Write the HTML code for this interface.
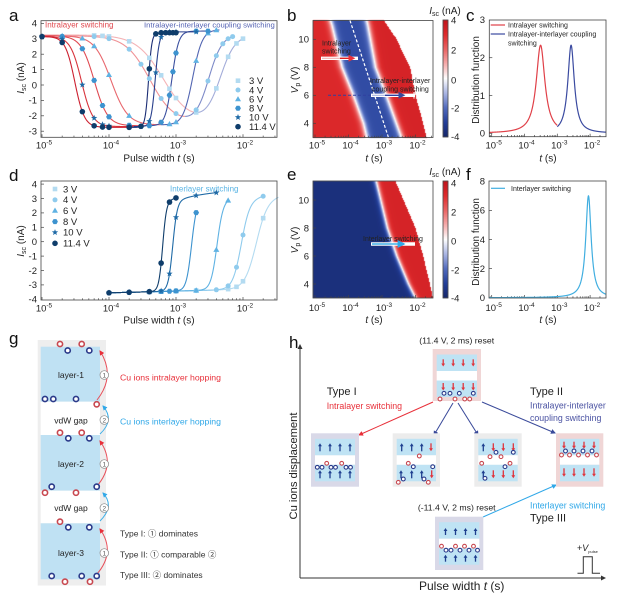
<!DOCTYPE html>
<html><head><meta charset="utf-8">
<style>
html,body{margin:0;padding:0;background:#fff;}
#w{position:relative;width:628px;height:600px;overflow:hidden;background:#fff;}
canvas,svg{position:absolute;left:0;top:0;}
text{font-family:"Liberation Sans","Noto Sans CJK SC",sans-serif;}
</style></head><body><div id="w">
<canvas id="cv" width="628" height="600"></canvas>
<svg id="s" width="628" height="600" viewBox="0 0 628 600" xmlns="http://www.w3.org/2000/svg">
<defs>
<marker id="mR" viewBox="0 0 10 10" refX="8" refY="5" markerWidth="5" markerHeight="5" orient="auto"><path d="M0,0L10,5L0,10z" fill="#e8303a"/></marker>
<marker id="mB" viewBox="0 0 10 10" refX="8" refY="5" markerWidth="5" markerHeight="5" orient="auto"><path d="M0,0L10,5L0,10z" fill="#3a4a9a"/></marker>
<marker id="mL" viewBox="0 0 10 10" refX="8" refY="5" markerWidth="5" markerHeight="5" orient="auto"><path d="M0,0L10,5L0,10z" fill="#30a8e8"/></marker>
<marker id="mK" viewBox="0 0 10 10" refX="8" refY="5" markerWidth="5" markerHeight="5" orient="auto"><path d="M0,0L10,5L0,10z" fill="#333"/></marker>
</defs>
<g id="dyn"></g>

<!-- panel frames -->
<g fill="none" stroke="#444" stroke-width="0.8">
<rect x="41" y="20.7" width="236" height="116.6"/>
<rect x="313" y="20.5" width="120" height="117"/>
<rect x="489.3" y="20" width="116.7" height="116.7"/>
<rect x="41" y="181" width="236" height="119"/>
<rect x="313" y="181" width="120" height="117"/>
<rect x="489" y="181" width="117" height="117"/>
<rect x="443" y="20" width="5" height="117"/>
<rect x="443" y="181" width="5" height="117"/>
</g>

<!-- panel letters -->
<g font-size="17" fill="#111">
<text x="9" y="21">a</text>
<text x="287" y="21">b</text>
<text x="466" y="21">c</text>
<text x="9" y="181">d</text>
<text x="287" y="180">e</text>
<text x="466" y="180">f</text>
<text x="9" y="344">g</text>
<text x="289" y="348">h</text>
</g>

<!-- tick labels -->
<g font-size="9.5" fill="#222">
<g text-anchor="end">
<text x="37" y="26.7">4</text><text x="37" y="42.1">3</text><text x="37" y="57.5">2</text><text x="37" y="72.9">1</text><text x="37" y="88.3">0</text><text x="37" y="103.7">-1</text><text x="37" y="119.1">-2</text><text x="37" y="134.5">-3</text>
<text x="37" y="187.4">4</text><text x="37" y="201.8">3</text><text x="37" y="216.2">2</text><text x="37" y="230.6">1</text><text x="37" y="245">0</text><text x="37" y="259.4">-1</text><text x="37" y="273.8">-2</text><text x="37" y="288.2">-3</text><text x="37" y="302.6">-4</text>
<text x="309" y="126.6">4</text><text x="309" y="98.6">6</text><text x="309" y="70.6">8</text><text x="309" y="42.6">10</text>
<text x="309" y="287.3">4</text><text x="309" y="259.3">6</text><text x="309" y="231.3">8</text><text x="309" y="203.3">10</text>
<text x="485" y="136.6">0</text><text x="485" y="98.8">1</text><text x="485" y="61">2</text><text x="485" y="23.2">3</text>
<text x="485" y="301">0</text><text x="485" y="271.9">2</text><text x="485" y="242.8">4</text><text x="485" y="213.7">6</text><text x="485" y="184.6">8</text>
</g>
<g>
<text x="451" y="23.3">4</text><text x="451" y="53.3">2</text><text x="451" y="83.3">0</text><text x="451" y="111.6">-2</text><text x="451" y="140">-4</text>
<text x="451" y="186.3">4</text><text x="451" y="215.3">2</text><text x="451" y="244.3">0</text><text x="451" y="273.3">-2</text><text x="451" y="301.3">-4</text>
</g>
<g text-anchor="middle">
<text x="44" y="148.5">10<tspan dy="-4" font-size="6.5">-5</tspan></text>
<text x="111" y="148.5">10<tspan dy="-4" font-size="6.5">-4</tspan></text>
<text x="178" y="148.5">10<tspan dy="-4" font-size="6.5">-3</tspan></text>
<text x="245" y="148.5">10<tspan dy="-4" font-size="6.5">-2</tspan></text>
<text x="44" y="311.5">10<tspan dy="-4" font-size="6.5">-5</tspan></text>
<text x="111" y="311.5">10<tspan dy="-4" font-size="6.5">-4</tspan></text>
<text x="178" y="311.5">10<tspan dy="-4" font-size="6.5">-3</tspan></text>
<text x="245" y="311.5">10<tspan dy="-4" font-size="6.5">-2</tspan></text>
<text x="317" y="148.5">10<tspan dy="-4" font-size="6.5">-5</tspan></text>
<text x="350.5" y="148.5">10<tspan dy="-4" font-size="6.5">-4</tspan></text>
<text x="384" y="148.5">10<tspan dy="-4" font-size="6.5">-3</tspan></text>
<text x="417.5" y="148.5">10<tspan dy="-4" font-size="6.5">-2</tspan></text>
<text x="317" y="311">10<tspan dy="-4" font-size="6.5">-5</tspan></text>
<text x="350.5" y="311">10<tspan dy="-4" font-size="6.5">-4</tspan></text>
<text x="384" y="311">10<tspan dy="-4" font-size="6.5">-3</tspan></text>
<text x="417.5" y="311">10<tspan dy="-4" font-size="6.5">-2</tspan></text>
<text x="493.7" y="148.5">10<tspan dy="-4" font-size="6.5">-5</tspan></text>
<text x="526.5" y="148.5">10<tspan dy="-4" font-size="6.5">-4</tspan></text>
<text x="559.3" y="148.5">10<tspan dy="-4" font-size="6.5">-3</tspan></text>
<text x="592.1" y="148.5">10<tspan dy="-4" font-size="6.5">-2</tspan></text>
<text x="493.7" y="311">10<tspan dy="-4" font-size="6.5">-5</tspan></text>
<text x="526.5" y="311">10<tspan dy="-4" font-size="6.5">-4</tspan></text>
<text x="559.3" y="311">10<tspan dy="-4" font-size="6.5">-3</tspan></text>
<text x="592.1" y="311">10<tspan dy="-4" font-size="6.5">-2</tspan></text>
</g>
</g>

<!-- axis titles -->
<g font-size="10" fill="#222" text-anchor="middle">
<text x="159" y="161.5">Pulse width <tspan font-style="italic">t</tspan> (s)</text>
<text x="159" y="323.5">Pulse width <tspan font-style="italic">t</tspan> (s)</text>
<text x="374" y="161.5"><tspan font-style="italic">t</tspan> (s)</text>
<text x="374" y="323"><tspan font-style="italic">t</tspan> (s)</text>
<text x="548" y="161.5"><tspan font-style="italic">t</tspan> (s)</text>
<text x="548" y="323"><tspan font-style="italic">t</tspan> (s)</text>
<text transform="translate(24,78) rotate(-90)"><tspan font-style="italic">I</tspan><tspan font-size="7" dy="2">sc</tspan><tspan dy="-2"> (nA)</tspan></text>
<text transform="translate(24,241) rotate(-90)"><tspan font-style="italic">I</tspan><tspan font-size="7" dy="2">sc</tspan><tspan dy="-2"> (nA)</tspan></text>
<text transform="translate(298,80) rotate(-90)"><tspan font-style="italic">V</tspan><tspan font-size="7" dy="2">p</tspan><tspan dy="-2"> (V)</tspan></text>
<text transform="translate(298,240) rotate(-90)"><tspan font-style="italic">V</tspan><tspan font-size="7" dy="2">p</tspan><tspan dy="-2"> (V)</tspan></text>
<text transform="translate(479,80) rotate(-90)">Distribution function</text>
<text transform="translate(479,242) rotate(-90)">Distribution function</text>
<text x="445" y="14"><tspan font-style="italic">I</tspan><tspan font-size="7" dy="2">sc</tspan><tspan dy="-2"> (nA)</tspan></text>
<text x="445" y="175"><tspan font-style="italic">I</tspan><tspan font-size="7" dy="2">sc</tspan><tspan dy="-2"> (nA)</tspan></text>
</g>

<!-- annotations panel a, d -->
<text x="45" y="27.5" font-size="8" fill="#e04a50">Intralayer switching</text>
<text x="144" y="27.5" font-size="7.7" fill="#5563b3">Intralayer-interlayer coupling switching</text>
<text x="170" y="191.5" font-size="8" fill="#5ab4e4">Interlayer switching</text>
<g font-size="9.5" fill="#222">
<text x="249" y="84">3 V</text><text x="249" y="93.3">4 V</text><text x="249" y="102.6">6 V</text><text x="249" y="111.6">8 V</text><text x="249" y="120.6">10 V</text><text x="249" y="130">11.4 V</text>
<text x="63" y="192.3">3 V</text><text x="63" y="203.2">4 V</text><text x="63" y="214">6 V</text><text x="63" y="224.9">8 V</text><text x="63" y="235.7">10 V</text><text x="63" y="246.6">11.4 V</text>
</g>

<!-- panel b annotations -->
<line x1="350" y1="20.5" x2="388.3" y2="137" stroke="#fff" stroke-width="1.2" stroke-dasharray="3,2"/>
<g font-size="7" fill="#222">
<text x="322" y="45.5">Intralayer</text>
<text x="322" y="53.5">switching</text>
<text x="370" y="83">Intralayer-interlayer</text>
<text x="372" y="91.5">coupling switching</text>
<text x="363" y="241">Interlayer switching</text>
</g>
<line x1="321" y1="58.3" x2="358" y2="58.3" stroke="#fff" stroke-width="3.4"/>
<line x1="322" y1="58.3" x2="352" y2="58.3" stroke="#f2b0b0" stroke-width="1.2"/>
<line x1="340" y1="58.3" x2="354" y2="58.3" stroke="#e02020" stroke-width="1.4" marker-end="url(#mR)"/>
<line x1="328" y1="95.3" x2="371" y2="95.3" stroke="#3040a0" stroke-width="1" stroke-dasharray="3,2"/>
<line x1="371" y1="95.3" x2="415" y2="95.3" stroke="#fff" stroke-width="3.4"/>
<line x1="372" y1="95.3" x2="396" y2="95.3" stroke="#aab4e0" stroke-width="1.2"/>
<line x1="385" y1="95.3" x2="404" y2="95.3" stroke="#3040a0" stroke-width="1.4" marker-end="url(#mB)"/>
<line x1="414" y1="92" x2="414" y2="98.6" stroke="#fff" stroke-width="1"/>
<line x1="371" y1="244" x2="415" y2="244" stroke="#fff" stroke-width="3.4"/>
<line x1="372" y1="244" x2="404" y2="244" stroke="#40b0e8" stroke-width="1.6" marker-end="url(#mL)"/>

<!-- panel c, f legends -->
<line x1="490.7" y1="25" x2="505" y2="25" stroke="#e04048" stroke-width="1.2"/>
<line x1="490.7" y1="34" x2="505" y2="34" stroke="#3a4aa0" stroke-width="1.2"/>
<line x1="491" y1="188.3" x2="505" y2="188.3" stroke="#40aee0" stroke-width="1.2"/>
<g font-size="7" fill="#222">
<text x="508" y="27.5">Intralayer switching</text>
<text x="508" y="36.5">Intralayer-interlayer coupling</text>
<text x="508" y="45.5">switching</text>
<text x="511" y="191">Interlayer switching</text>
</g>

<!-- panel g -->
<rect x="37.7" y="340" width="68.3" height="245.5" fill="#eeeeee"/>
<rect x="40.7" y="346.7" width="59.3" height="55" fill="#bfe1f3"/>
<rect x="40.7" y="401.7" width="59.3" height="33.3" fill="#fff"/>
<rect x="40.7" y="435" width="59.3" height="55.7" fill="#bfe1f3"/>
<rect x="40.7" y="490.7" width="59.3" height="32.6" fill="#fff"/>
<rect x="40.7" y="523.3" width="59.3" height="56" fill="#bfe1f3"/>
<g font-size="8.5" fill="#222" text-anchor="middle">
<text x="71" y="378">layer-1</text>
<text x="71" y="423.5">vdW gap</text>
<text x="71" y="467">layer-2</text>
<text x="71" y="511">vdW gap</text>
<text x="71" y="556">layer-3</text>
</g>
<g fill="none" stroke-width="1">
<path d="M97,400 Q116,376 100,351" stroke="#e8505a" marker-end="url(#mR)"/>
<path d="M100,434 Q115,420 103,406" stroke="#40b0e8" marker-end="url(#mL)"/>
<path d="M97,486 Q116,464 100,441" stroke="#e8505a" marker-end="url(#mR)"/>
<path d="M100,521 Q115,506 103,493" stroke="#40b0e8" marker-end="url(#mL)"/>
<path d="M97,574 Q116,552 100,529" stroke="#e8505a" marker-end="url(#mR)"/>
</g>
<g fill="#fff" stroke="#888" stroke-width="0.7">
<circle cx="104.3" cy="375" r="4.3"/><circle cx="104.3" cy="420" r="4.3"/><circle cx="104.3" cy="464" r="4.3"/><circle cx="104.3" cy="508" r="4.3"/><circle cx="104.3" cy="553" r="4.3"/>
</g>
<g font-size="6.5" fill="#555" text-anchor="middle">
<text x="104.3" y="377.3">1</text><text x="104.3" y="422.3">2</text><text x="104.3" y="466.3">1</text><text x="104.3" y="510.3">2</text><text x="104.3" y="555.3">1</text>
</g>
<text x="120" y="380.5" font-size="8.7" fill="#e8303a">Cu ions intralayer hopping</text>
<text x="120" y="424.5" font-size="8.7" fill="#30a8e8">Cu ions interlayer hopping</text>
<g font-size="8.5" fill="#333">
<text x="120" y="536.5">Type I: ① dominates</text>
<text x="120" y="557.5">Type II: ① comparable ②</text>
<text x="120" y="578">Type III: ② dominates</text>
</g>

<!-- panel h -->
<line x1="300" y1="578" x2="300" y2="345" stroke="#333" stroke-width="1" marker-end="url(#mK)"/>
<line x1="300" y1="578" x2="605" y2="578" stroke="#333" stroke-width="1" marker-end="url(#mK)"/>
<text transform="translate(297,466) rotate(-90)" font-size="11.2" fill="#222" text-anchor="middle">Cu ions displacement</text>
<text x="461.7" y="590" font-size="12" fill="#222" text-anchor="middle">Pulse width <tspan font-style="italic">t</tspan> (s)</text>
<text x="456.7" y="343.5" font-size="8.7" fill="#222" text-anchor="middle">(11.4 V, 2 ms) reset</text>
<text x="456.7" y="510.5" font-size="8.7" fill="#222" text-anchor="middle">(-11.4 V, 2 ms) reset</text>
<text x="326.7" y="395" font-size="11" fill="#222">Type I</text>
<text x="326.7" y="409" font-size="8.8" fill="#e8303a">Intralayer switching</text>
<text x="530" y="395" font-size="11" fill="#222">Type II</text>
<text x="530" y="408.5" font-size="8.8" fill="#4a52a2">Intralayer-interlayer</text>
<text x="530" y="421" font-size="8.8" fill="#4a52a2">coupling switching</text>
<text x="530" y="508.5" font-size="8.8" fill="#30a8e8">Interlayer switching</text>
<text x="530" y="521.5" font-size="11" fill="#222">Type III</text>
<text x="577" y="551" font-size="9" fill="#222">+<tspan font-style="italic">V</tspan><tspan font-size="4" dy="2">pulse</tspan></text>
<polyline points="577.5,573.3 583.3,573.3 583.3,556.7 592.3,556.7 592.3,573.3 600,573.3" fill="none" stroke="#333" stroke-width="1"/>
<line x1="433" y1="402" x2="359" y2="435" stroke="#e8303a" stroke-width="1" marker-end="url(#mR)"/>
<line x1="453" y1="403" x2="434" y2="435" stroke="#3a4a9a" stroke-width="1" marker-end="url(#mB)"/>
<line x1="458" y1="403" x2="478" y2="435" stroke="#3a4a9a" stroke-width="1" marker-end="url(#mB)"/>
<line x1="482" y1="402" x2="555" y2="433" stroke="#3a4a9a" stroke-width="1" marker-end="url(#mB)"/>
<line x1="483" y1="517" x2="556" y2="485" stroke="#30a8e8" stroke-width="1" marker-end="url(#mL)"/>
<g id="hb"></g>
<g id="mk"></g>
</svg>
</div>
<script>
(function(){
var NS="http://www.w3.org/2000/svg";
function mk(tag,a,par){var e=document.createElementNS(NS,tag);for(var k in a)e.setAttribute(k,a[k]);(par||document.getElementById('dyn')).appendChild(e);return e;}
function sig(x){return 1/(1+Math.exp(-x));}
var L=Math.log10;
var MK=document.getElementById('mk'), HB=document.getElementById('hb'), DY=document.getElementById('dyn');

/* ---------- ticks ---------- */
function xticks(x10m5,dec,xL,xR,yb){
  for(var d=-6;d<=-1;d++){for(var m=1;m<10;m++){var lt=d+L(m);var x=x10m5+(lt+5)*dec;if(x<xL+0.5||x>xR-0.5)continue;var len=m==1?3:1.7;mk('line',{x1:x,y1:yb,x2:x,y2:yb-len,stroke:'#444','stroke-width':0.7},DY);}}
}
function yticks(xl,ys){ys.forEach(function(y){mk('line',{x1:xl,y1:y,x2:xl+3,y2:y,stroke:'#444','stroke-width':0.7},DY);});}
xticks(42,67,41,277,137.3); xticks(42,67,41,277,300);
xticks(315,33.5,313,433,137.5); xticks(315,33.5,313,433,298);
xticks(491.7,32.8,489.3,606,136.7); xticks(491.7,32.8,489,606,298);
yticks(41,[23.4,38.8,54.2,69.6,85,100.4,115.8,131.2]);
yticks(41,[184.1,198.5,212.9,227.3,241.7,256.1,270.5,284.9]);
yticks(313,[123.3,95.3,67.3,39.3]); yticks(313,[284,256,228,200]);
yticks(489.3,[133.3,95.5,57.7]); yticks(489,[268.6,239.5,210.4]);

/* ---------- markers ---------- */
function marker(sh,x,y,c,par){
  par=par||MK;
  if(sh=='sq')mk('rect',{x:x-2.3,y:y-2.3,width:4.6,height:4.6,fill:c},par);
  else if(sh=='ci')mk('circle',{cx:x,cy:y,r:2.5,fill:c},par);
  else if(sh=='ci2')mk('circle',{cx:x,cy:y,r:2.8,fill:c},par);
  else if(sh=='tri')mk('polygon',{points:(x)+','+(y-3.2)+' '+(x+3)+','+(y+2)+' '+(x-3)+','+(y+2),fill:c},par);
  else if(sh=='hex'){var p=[];for(var i=0;i<6;i++){var a=Math.PI/3*i;p.push((x+2.9*Math.cos(a)).toFixed(2)+','+(y+2.9*Math.sin(a)).toFixed(2));}mk('polygon',{points:p.join(' '),fill:c},par);}
  else if(sh=='star'){var p=[];for(var i=0;i<10;i++){var a=-Math.PI/2+Math.PI/5*i;var r=i%2?1.4:3.3;p.push((x+r*Math.cos(a)).toFixed(2)+','+(y+r*Math.sin(a)).toFixed(2));}mk('polygon',{points:p.join(' '),fill:c},par);}
}
var MC=['#b3dbf1','#8fcbed','#5fb2e3','#3d93cf','#1f6aa6','#0f3d6b'];
var SH=['sq','ci','tri','hex','star','ci2'];
var lya=[80.7,90,99.3,108.3,117.3,126.7], lyd=[189,199.9,210.7,221.6,232.4,243.3];
for(var i=0;i<6;i++){marker(SH[i],238,lya[i],MC[i]);marker(SH[i],55,lyd[i],MC[i]);}

/* ---------- panel a ---------- */
var XA=function(lt){return 42+(lt+5)*67;}, YA=function(I){return 85-I*15.4;};
var aP=[
 {tc1:-3.19,k1:5,tc2:-2.34,k2:9,a:3.25,lo:-2.45,b:3.25,end:-2.0,rc:'#f4b3b6',bc:'#a3acd9',pts:[6e-5,8e-5,1e-4,2e-4,4e-4,6e-4,8e-4,1e-3,2e-3,4e-3,6e-3,8e-3,1e-2]},
 {tc1:-3.39,k1:5.5,tc2:-2.51,k2:10,a:3.2,lo:-2.5,b:3.3,end:-2.15,rc:'#ef9296',bc:'#7d8ac8',pts:[6e-5,1e-4,2e-4,3e-4,4e-4,6e-4,1e-3,2e-3,3e-3,4e-3,5e-3,6e-3,7e-3]},
 {tc1:-3.97,k1:8,tc2:-2.75,k2:14,a:3.2,lo:-2.6,b:3.6,end:-2.35,rc:'#e8686e',bc:'#5366b2',pts:[2e-5,4e-5,6e-5,1e-4,2e-4,4e-4,8e-4,1e-3,2e-3,3e-3,4e-3]},
 {tc1:-4.22,k1:10,tc2:-3.06,k2:20,a:3.2,lo:-2.65,b:3.5,end:-2.5,rc:'#e04a52',bc:'#3a4f9f',pts:[2e-5,4e-5,6e-5,8e-5,1e-4,2e-4,4e-4,6e-4,8e-4,9e-4,1e-3,2e-3,3e-3]},
 {tc1:-4.41,k1:12,tc2:-3.31,k2:32,a:3.15,lo:-2.7,b:3.45,end:-2.7,rc:'#d8343c',bc:'#283f8c',pts:[1e-5,2e-5,4e-5,6e-5,8e-5,1e-4,2e-4,3e-4,4e-4,5e-4,6e-4,8e-4,1e-3,2e-3]},
 {tc1:-4.51,k1:14,tc2:-3.41,k2:40,a:3.15,lo:-2.75,b:3.4,end:-3.0,rc:'#cc2030',bc:'#1b2d74',pts:[1e-5,2e-5,4e-5,6e-5,8e-5,1e-4,2e-4,3e-4,4e-4,5e-4,6e-4,7e-4,8e-4,9e-4,1e-3]}
];
function fa(p,lt){return p.a+(p.lo-p.a)*sig(p.k1*(lt-p.tc1))+(p.b-p.lo)*sig(p.k2*(lt-p.tc2));}
aP.forEach(function(p){
  var xs=[],mi=0,mv=1e9;
  for(var lt=-5;lt<=p.end+1e-9;lt+=0.004){var v=fa(p,lt);xs.push([lt,v]);if(v<mv){mv=v;mi=xs.length-1;}}
  var r='',b='';
  for(var j=0;j<xs.length;j++){var s=XA(xs[j][0]).toFixed(2)+','+YA(xs[j][1]).toFixed(2)+' ';if(j<=mi)r+=s;if(j>=mi)b+=s;}
  mk('polyline',{points:r,fill:'none',stroke:p.rc,'stroke-width':1.1});
  mk('polyline',{points:b,fill:'none',stroke:p.bc,'stroke-width':1.1});
});
aP.forEach(function(p,i){p.pts.forEach(function(t){var lt=L(t);marker(SH[i],XA(lt),YA(fa(p,lt)),MC[i]);});});

/* ---------- panel d ---------- */
var YD=function(I){return 241.7-I*14.4;};
var dP=[
 {tc:-1.81,k:12,end:-1.47,pts:[6e-4,1e-3,2e-3,6e-3,8e-3,1e-2,2e-2]},
 {tc:-2.03,k:16,end:-1.7,pts:[4e-4,1e-3,2e-3,4e-3,6e-3,8e-3,1e-2,2e-2]},
 {tc:-2.39,k:22,end:-2.22,pts:[4e-4,6e-4,1e-3,2e-3,4e-3,6e-3]},
 {tc:-2.77,k:26,end:-2.7,pts:[2e-4,4e-4,6e-4,8e-4,1e-3,2e-3]},
 {tc:-3.05,k:30,end:-2.4,pts:[1e-4,2e-4,4e-4,6e-4,8e-4,1e-3,2e-3,4e-3]},
 {tc:-3.2,k:35,end:-3.0,pts:[1e-4,2e-4,4e-4,6e-4,8e-4,1e-3]}
];
function fd(p,lt){var lo=-3.55+0.12*(lt+4);var hi=3.65-0.9*Math.exp(-Math.max(0,lt-p.tc)/0.5);return lo+(hi-lo)*sig(p.k*(lt-p.tc));}
dP.forEach(function(p,i){var s='';for(var lt=-4;lt<=p.end+1e-9;lt+=0.003){s+=XA(lt).toFixed(2)+','+YD(fd(p,lt)).toFixed(2)+' ';}mk('polyline',{points:s,fill:'none',stroke:MC[i],'stroke-width':1.1});});
dP.forEach(function(p,i){p.pts.forEach(function(t){var lt=L(t);marker(SH[i],XA(lt),YD(fd(p,lt)),MC[i]);});});

/* ---------- panels c,f ---------- */
var XC=function(lt){return 491.7+(lt+5)*32.8;};
function lor(lt,x0,g,A){return A*g*g/((lt-x0)*(lt-x0)+g*g);}
var s1='',s2='',s3='';
for(var lt=-5.07;lt<=-3+1e-9;lt+=0.004){s1+=XC(lt).toFixed(2)+','+(133.3-37.8*lor(lt,-3.51,0.16,2.33)).toFixed(2)+' ';}
for(var lt=-3;lt<=-1.515;lt+=0.004){s2+=XC(lt).toFixed(2)+','+(133.3-37.8*lor(lt,-2.58,0.12,2.33)).toFixed(2)+' ';}
for(var lt=-5.07;lt<=-1.515;lt+=0.003){s3+=XC(lt).toFixed(2)+','+(297.7-14.55*lor(lt,-2.05,0.1,7)).toFixed(2)+' ';}
mk('polyline',{points:s1,fill:'none',stroke:'#e04048','stroke-width':1.2});
mk('polyline',{points:s2,fill:'none',stroke:'#3a4aa0','stroke-width':1.2});
mk('polyline',{points:s3,fill:'none',stroke:'#40aee0','stroke-width':1.2});

/* ---------- heatmaps on canvas ---------- */
var cv=document.getElementById('cv'),ctx=cv.getContext('2d');
function tbl(t,v){if(v<=t[0][0])return t[0][1];for(var i=1;i<t.length;i++){if(v<=t[i][0]){var f=(v-t[i-1][0])/(t[i][0]-t[i-1][0]);return t[i-1][1]+f*(t[i][1]-t[i-1][1]);}}return t[t.length-1][1];}
var CM=[[-4,[22,38,105]],[-3,[35,62,152]],[-2,[82,108,190]],[-1,[170,182,228]],[0,[255,255,255]],[1,[246,172,172]],[2,[234,100,100]],[3,[222,42,44]],[4,[192,20,28]]];
function cmap(v){v=Math.max(-4,Math.min(4,v));for(var i=1;i<CM.length;i++){if(v<=CM[i][0]){var f=(v-CM[i-1][0])/(CM[i][0]-CM[i-1][0]);var a=CM[i-1][1],b=CM[i][1];return [a[0]+f*(b[0]-a[0]),a[1]+f*(b[1]-a[1]),a[2]+f*(b[2]-a[2])];}}return CM[CM.length-1][1];}
function heat(x0,y0,x1,y1,fn){var w=x1-x0,h=y1-y0;var im=ctx.createImageData(w,h);for(var j=0;j<h;j++)for(var i=0;i<w;i++){var c=fn(x0+i+0.5,y0+j+0.5);var k=(j*w+i)*4;im.data[k]=c[0];im.data[k+1]=c[1];im.data[k+2]=c[2];im.data[k+3]=255;}ctx.putImageData(im,x0,y0);}
var B1=[[3,-3.46],[4,-3.56],[6,-3.86],[8,-4.2],[11,-4.5],[11.4,-4.55]];
var B2=[[3,-2.41],[4,-2.56],[6,-2.86],[8,-3.18],[11,-3.41],[11.4,-3.45]];
var BW=[[3,-1.67],[4,-1.77],[6,-2.0],[8,-2.16],[9,-2.37],[10,-2.56],[11.4,-2.96]];
heat(313,20,433,138,function(px,py){var lt=-5+(px-315)/33.5;var V=3+(137.3-py)/14;if(lt>tbl(BW,V))return [255,255,255];var v=3.1-5.8*sig(16*(lt-tbl(B1,V)))+6.0*sig(16*(lt-tbl(B2,V)));return cmap(v);});
var BE=[[3,-2.0],[4,-2.21],[6,-2.56],[8,-2.84],[11.4,-3.18]];
var BWE=[[3,-1.48],[4,-1.57],[6,-1.77],[8,-2.0],[10,-2.36],[11.4,-2.61]];
heat(313,181,433,298,function(px,py){var lt=-5+(px-315)/33.5;var V=3+(298-py)/14;if(lt>tbl(BWE,V))return [255,255,255];var v=-3.6+6.9*sig(20*(lt-tbl(BE,V)));return cmap(v);});
heat(443,20,448,137,function(px,py){return cmap(4-8*(py-20)/117);});
heat(443,181,448,298,function(px,py){return cmap(4-8*(py-181)/117);});

/* ---------- panel g ions ---------- */
function ion(x,y,t,r,sw,par){mk('circle',{cx:x,cy:y,r:r,fill:'#fff',stroke:t=='r'?'#c84850':'#2b3a8a','stroke-width':sw},par||HB);}
var gI=[[60,344,'r'],[81.7,344,'r'],[67.7,350.5,'b'],[89.3,350.5,'b'],
[45,399,'b'],[53.3,399,'b'],[76,399,'b'],[96.7,404.3,'r'],
[60,432.7,'r'],[81.7,432.7,'r'],[68.3,438.3,'b'],[89.3,438.3,'b'],
[51.7,486.7,'b'],[96.7,486.7,'b'],[45,492.7,'r'],[76,492.7,'r'],
[60,521.7,'r'],[68.3,527.3,'b'],[89.3,527.3,'b'],
[51.7,576,'b'],[81.7,576,'b'],[96.7,576,'b'],[65,581.7,'r'],[90,581.7,'r']];
gI.forEach(function(c){ion(c[0],c[1],c[2],2.6,1.6);});

/* ---------- panel h boxes ---------- */
function arr(x,y1,y2,col){var d=y2>y1?1:-1;mk('line',{x1:x,y1:y1,x2:x,y2:y2-d*2.6,stroke:col,'stroke-width':1.3},HB);mk('polygon',{points:(x-1.9)+','+(y2-d*3)+' '+(x+1.9)+','+(y2-d*3)+' '+x+','+y2,fill:col},HB);}
var RED='#e0343c',BLU='#1f3f8f';
function box(bx,by,w,h,bg){mk('rect',{x:bx,y:by,width:w,height:h,fill:bg},HB);mk('rect',{x:bx+4,y:by+5.5,width:w-8,height:16.5,fill:'#bfe3f4'},HB);mk('rect',{x:bx+4,y:by+22,width:w-8,height:9.5,fill:'#fff'},HB);mk('rect',{x:bx+4,y:by+31.5,width:w-8,height:16.5,fill:'#bfe3f4'},HB);}
function up(bx,by,xs,y1,y2){xs.forEach(function(x){arr(bx+x,by+y1,by+y2,BLU);});}
function dn(bx,by,xs,y1,y2){xs.forEach(function(x){arr(bx+x,by+y1,by+y2,RED);});}
function ions(bx,by,l){l.forEach(function(c){ion(bx+c[0],by+c[1],c[2],1.9,1.1);});}
var X4=[10.5,20.5,30.5,40.5];
/* top box */
var bx=432.7,by=349;box(bx,by,48.3,52,'#f0d6d6');
dn(bx,by,X4,10.3,17.5);dn(bx,by,X4,34,41.5);
ions(bx,by,[[7.3,50,'r'],[11.3,44.3,'b'],[17.3,44.3,'b'],[22.3,50,'r'],[26.6,44.3,'b'],[32,50,'r'],[37,50,'r'],[40.6,44.3,'b']]);
/* type I */
bx=311;by=433.3;box(bx,by,48,53.4,'#d9d9e8');
up(bx,by,[9,19,29,39],18,10);up(bx,by,[9,19,29,39],45,37);
ions(bx,by,[[6.3,34,'b'],[11,34,'b'],[15.7,30,'r'],[20,34,'b'],[24.5,34,'b'],[30.7,30,'r'],[35,34,'b'],[39.5,34,'b']]);
/* mid1 */
bx=392.7;by=433.3;box(bx,by,47.3,53.4,'#ececec');
up(bx,by,[9,19,29],18,10);dn(bx,by,[38.3],10,18);
up(bx,by,[8.3,19,29],45,37);dn(bx,by,[39],37,45);
ions(bx,by,[[26.6,22.7,'r'],[15.6,30,'r'],[20.6,33.4,'b'],[40,33.4,'b'],[5.6,49,'r'],[10.6,45.7,'b'],[31.3,45.7,'b'],[35.6,49,'r']]);
/* mid2 */
bx=474.3;by=433.3;box(bx,by,47.4,53.4,'#ececec');
up(bx,by,[9],18,10);dn(bx,by,[19,29,39],10,18);
up(bx,by,[9],45,37);dn(bx,by,[19,29,39],37,45);
ions(bx,by,[[15.7,23.4,'r'],[21.7,19,'b'],[26.7,23.4,'r'],[39,19,'b'],[7.4,30,'r'],[35.7,30,'r'],[30.7,33.4,'b'],[10.7,45,'b']]);
/* type II */
bx=556;by=433.3;box(bx,by,47.3,53.4,'#f0d6d6');
dn(bx,by,[8,18,28,38],8.4,15.5);dn(bx,by,[8,18,28,38],35,43.4);
ions(bx,by,[[5.5,21.7,'r'],[9.5,17.7,'b'],[13.5,21.7,'r'],[18,17.7,'b'],[22.5,21.7,'r'],[27,17.7,'b'],[31.5,21.7,'r'],[36,17.7,'b'],[40.5,21.7,'r']]);
/* bottom */
bx=435;by=516.7;box(bx,by,48.3,53.3,'#d9d9e8');
up(bx,by,X4,18.3,11.3);up(bx,by,X4,45,38);
ions(bx,by,[[6.5,29.5,'r'],[11,33.5,'b'],[16,33.5,'b'],[20.5,29.5,'r'],[25,33.5,'b'],[29.5,29.5,'r'],[34,33.5,'b'],[38.5,29.5,'r'],[42.5,33.5,'b']]);
})();
</script>
</body></html>
